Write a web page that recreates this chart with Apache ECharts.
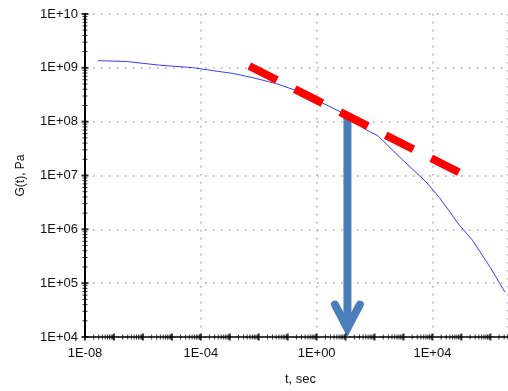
<!DOCTYPE html>
<html>
<head>
<meta charset="utf-8">
<script src="https://cdn.jsdelivr.net/npm/echarts@6/dist/echarts.min.js"></script>
<style>
  html, body { margin: 0; padding: 0; background: #fff; }
  #chart { width: 508px; height: 391px; }
</style>
</head>
<body>
<div id="chart"></div>
<script>
// relaxation modulus G(t)
const timeSec = [2.8e-8, 2.75e-7, 3.8e-6, 5.1e-5, 2.5e-4, 1.23e-3, 6.0e-3, 0.04, 0.195, 1.66,
  8.1, 50, 129, 933, 5750, 17400, 85000, 2.4e5, 1.0e6, 3.2e6];
const modulusPa = [1.36e9, 1.31e9, 1.12e9, 1.01e9, 8.9e8, 7.9e8, 6.6e8, 5.1e8, 3.8e8, 2.2e8,
  1.45e8, 7.1e7, 5.5e7, 1.95e7, 7.8e6, 3.9e6, 1.2e6, 6.3e5, 1.95e5, 6.8e4];

// red dashed tangent line
const tangentT = [0.00472, 85000];
const tangentG = [1.08e9, 1.135e7];

// blue arrow: shaft and chevron head
const arrowShaftT = [11.6, 11.6];
const arrowShaftG = [1.27e8, 1.45e4];
const arrowHeadT = [4.3, 11.5, 31];
const arrowHeadG = [4.0e4, 1.45e4, 4.0e4];

// axis tick labels (decade exponent -> text)
const xTickExp = [-8, -4, 0, 4];
const xTickLabels = ['1E-08', '1E-04', '1E+00', '1E+04'];
const yTickExp = [4, 5, 6, 7, 8, 9, 10];
const yTickLabels = ['1E+04', '1E+05', '1E+06', '1E+07', '1E+08', '1E+09', '1E+10'];

// log-spaced minor tick multipliers inside a decade
const minorMult = [2, 3, 4, 5, 6, 7, 8, 9];

const X_MIN = -8, X_MAX = 6.61, Y_MIN = 4, Y_MAX = 10;
const lg = v => Math.log10(v);
const toPts = (ts, gs) => ts.map((t, i) => [lg(t), lg(gs[i])]);

// tick marks crossing the axes (major at each decade, minor log-spaced)
const xMajor = [], xMinor = [], yMajor = [], yMinor = [];
for (let n = -8; n <= 6; n++) {
  xMajor.push([n, Y_MIN]);
  minorMult.forEach(k => { const p = n + lg(k); if (p < X_MAX) xMinor.push([p, Y_MIN]); });
}
for (let n = 4; n <= 10; n++) {
  yMajor.push([X_MIN, n]);
  if (n < 10) minorMult.forEach(k => yMinor.push([X_MIN, n + lg(k)]));
}

const labelFont = { fontFamily: 'Liberation Sans, Arial, sans-serif', fontSize: 13, color: '#111' };
const grid = { lineStyle: { color: '#a8a8a8', width: 1.5, type: [1.5, 6.5] } };

const tickSeries = (data, size) => ({
  type: 'scatter', data: data, symbol: 'rect', symbolSize: size,
  itemStyle: { color: '#000' }, silent: true, clip: false, z: 5
});

const chart = echarts.init(document.getElementById('chart'));
chart.setOption({
  animation: false,
  grid: { left: 85, right: -2, top: 14, bottom: 51 },
  xAxis: {
    type: 'value', min: X_MIN, max: X_MAX, interval: 4,
    name: 't, sec', nameLocation: 'middle', nameGap: 36,
    nameTextStyle: Object.assign({}, labelFont, { padding: [0, 0, 0, 8] }),
    axisLine: { onZero: false, lineStyle: { color: '#000', width: 1.5 } },
    axisTick: { show: false },
    axisLabel: Object.assign({}, labelFont, {
      margin: 10, showMaxLabel: false,
      formatter: v => { const i = xTickExp.indexOf(v); return i < 0 ? '' : xTickLabels[i]; }
    }),
    splitLine: Object.assign({ show: true }, grid)
  },
  yAxis: {
    type: 'value', min: Y_MIN, max: Y_MAX, interval: 1,
    name: 'G(t), Pa', nameLocation: 'middle', nameGap: 58,
    nameTextStyle: Object.assign({}, labelFont, { fontSize: 12 }),
    axisLine: { onZero: false, lineStyle: { color: '#000', width: 2 } },
    axisTick: { show: false },
    axisLabel: Object.assign({}, labelFont, {
      margin: 7,
      formatter: v => { const i = yTickExp.indexOf(v); return i < 0 ? '' : yTickLabels[i]; }
    }),
    splitLine: Object.assign({ show: true }, grid)
  },
  series: [
    {
      type: 'line', data: toPts(timeSec, modulusPa), smooth: false,
      showSymbol: false, lineStyle: { color: '#3a3aff', width: 1 }, z: 2
    },
    {
      type: 'line', data: toPts(arrowShaftT, arrowShaftG), showSymbol: false,
      lineStyle: { color: '#4a7ebb', width: 8, cap: 'butt' }, z: 3
    },
    {
      type: 'line', data: toPts(arrowHeadT, arrowHeadG), showSymbol: false,
      lineStyle: { color: '#4a7ebb', width: 8, cap: 'round', join: 'miter', miterLimit: 10 }, z: 3
    },
    {
      type: 'line', data: toPts(tangentT, tangentG), showSymbol: false,
      lineStyle: { color: '#ff0000', width: 8, type: [31, 20], cap: 'butt' }, z: 4
    },
    tickSeries(xMajor, [2, 7]),
    tickSeries(xMinor, [1, 5]),
    tickSeries(yMajor, [7, 2]),
    tickSeries(yMinor, [5, 1])
  ]
});
</script>
</body>
</html>
